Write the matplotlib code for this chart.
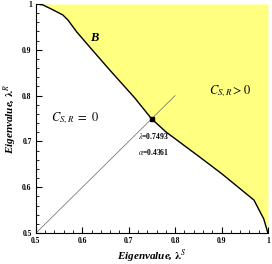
import matplotlib
matplotlib.use('Agg')
import matplotlib.pyplot as plt
from matplotlib.ticker import MultipleLocator, FuncFormatter

# boundary curve B (lambda_S, lambda_R)
curve_x = [0.5, 0.515, 0.537, 0.558, 0.569, 0.588, 0.616, 0.659, 0.713, 0.7493, 0.780, 0.853, 0.90, 0.970, 0.991, 1.0]
curve_y = [1.0, 0.998, 0.987, 0.976, 0.965, 0.939, 0.906, 0.856, 0.795, 0.7493, 0.721, 0.666, 0.630, 0.572, 0.531, 0.5]

diag_x = [0.5, 0.8]
diag_y = [0.5, 0.8]

cross_lam = 0.7493
cross_alpha = 0.4361

plt.rcParams['font.family'] = ['Liberation Serif', 'DejaVu Serif']
plt.rcParams['mathtext.fontset'] = 'stix'

fig = plt.figure(figsize=(2.72, 2.64), dpi=100)
ax = fig.add_axes([0.132, 0.117, 0.853, 0.868])

ax.fill_between(curve_x, curve_y, 1.0, color='#ffff80', lw=0)
ax.plot(curve_x, curve_y, color='black', lw=1.0)
ax.plot(diag_x, diag_y, color='#666666', lw=0.5)
ax.plot([cross_lam], [cross_lam], marker='s', color='black', ms=3)

ax.text(0.617, 0.92, 'B', fontsize=9, fontweight='bold', style='italic')
ax.text(0.585, 0.75, r'$C_{S,R}\ =\ 0$', fontsize=9, ha='center', va='center')
ax.text(0.918, 0.81, r'$C_{S,R} > 0$', fontsize=9, ha='center', va='center')
ax.text(0.72, 0.712, r'$\lambda$=%.4f' % cross_lam, fontsize=5.5, fontweight='bold', va='center')
ax.text(0.72, 0.677, r'$\alpha$=%.4f' % cross_alpha, fontsize=5.5, fontweight='bold', va='center')

ax.set_xlim(0.5, 1.0)
ax.set_ylim(0.5, 1.0)
ax.spines['top'].set_visible(False)
ax.spines['right'].set_visible(False)

ax.xaxis.set_major_locator(MultipleLocator(0.1))
ax.xaxis.set_minor_locator(MultipleLocator(0.02))
ax.yaxis.set_major_locator(MultipleLocator(0.1))
ax.yaxis.set_minor_locator(MultipleLocator(0.02))
fmt = FuncFormatter(lambda v, p: '1' if abs(v - 1) < 1e-9 else '%.1f' % v)
ax.xaxis.set_major_formatter(fmt)
ax.yaxis.set_major_formatter(fmt)
ax.tick_params(which='both', direction='in', labelsize=5.5, pad=3)
ax.tick_params(which='major', length=4, width=0.8)
ax.tick_params(which='minor', length=2, width=0.6)
for lab in ax.get_xticklabels() + ax.get_yticklabels():
    lab.set_fontweight('bold')

ax.set_xlabel(r'Eigenvalue, $\mathbf{\lambda}^S$', fontsize=8, fontweight='bold', style='italic', labelpad=2)
ax.set_ylabel(r'Eigenvalue, $\mathbf{\lambda}^R$', fontsize=8, fontweight='bold', style='italic', labelpad=2)

fig.savefig('out.png', dpi=100)
